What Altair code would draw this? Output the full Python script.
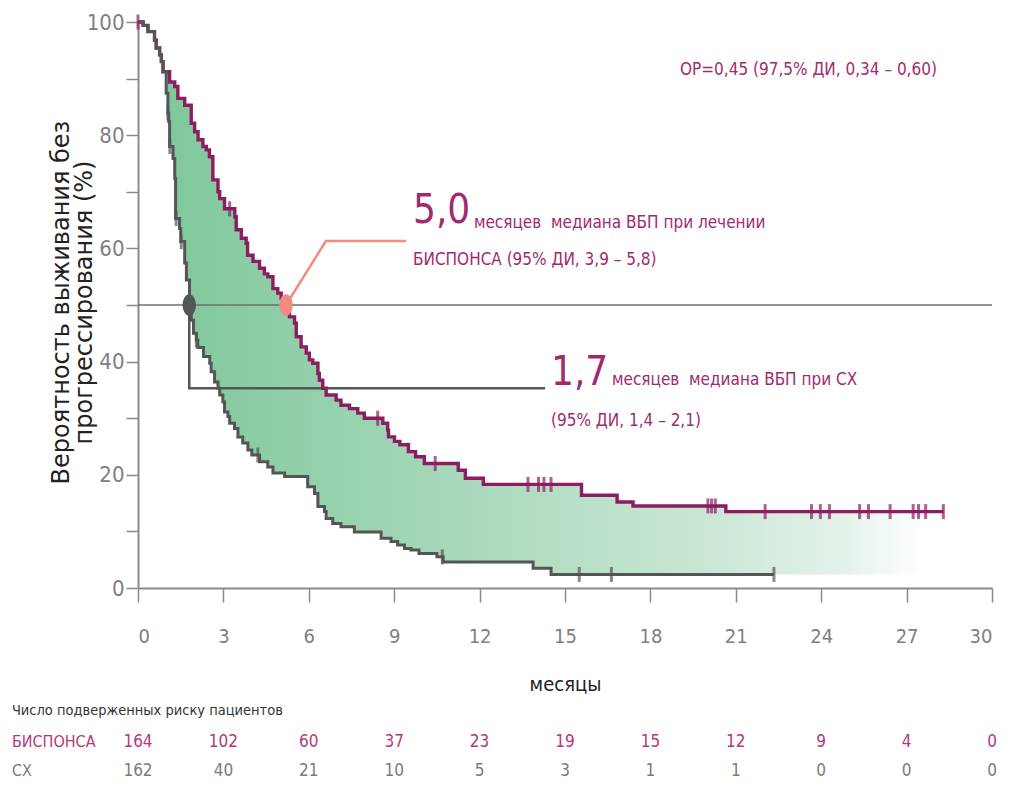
import altair as alt
import numpy as np
import pandas as pd

NARROW = "Liberation Sans Narrow, DejaVu Sans Condensed, sans-serif"
PURPLE_LINE = "#8B1D62"
PURPLE_TEXT = "#A12A6F"
PINK_TABLE = "#B3387C"
GRAY_LINE = "#555555"
SALMON = "#F28A80"
AXIS_GRAY = "#8a8a8a"

# ---- Kaplan-Meier steps: BESPONSA (months, % PFS) ----
bes_t = [0, 0.18, 0.35, 0.58, 0.64, 0.76, 0.82, 0.88, 1.11, 1.29, 1.40, 1.64, 1.87, 1.99,
         2.11, 2.28, 2.40, 2.51, 2.63, 2.81, 2.87, 3.04, 3.40, 3.45, 3.63, 3.80, 3.85, 4.04,
         4.27, 4.44, 4.56, 4.74, 4.91, 5.03, 5.20, 5.32, 5.50, 5.56, 5.73, 5.91, 6.02, 6.14,
         6.32, 6.37, 6.49, 6.61, 6.96, 7.13, 7.43, 7.72, 7.95, 8.60, 8.77, 8.80, 9.01, 9.20,
         9.50, 9.75, 10.06, 11.25, 11.50, 12.13, 15.58, 16.83, 17.39, 20.65, 28.30]
bes_s = [100, 99.4, 98.3, 96.8, 95.4, 94.2, 93.0, 91.2, 89.4, 88.6, 86.5, 85.3, 82.1, 80.6,
         79.2, 78.0, 77.4, 76.2, 72.1, 70.0, 68.8, 67.0, 65.6, 63.3, 61.8, 60.9, 58.8, 57.7,
         56.5, 55.5, 55.0, 52.9, 52.1, 51.2, 50.0, 47.9, 46.8, 44.4, 42.6, 41.5, 40.3, 39.7,
         37.9, 36.7, 35.3, 34.1, 33.2, 32.3, 31.7, 30.9, 30.0, 29.1, 27.9, 26.7, 25.9, 25.3,
         24.1, 23.2, 22.0, 20.8, 19.4, 18.3, 16.4, 15.2, 14.5, 13.5, 13.5]

# ---- Kaplan-Meier steps: СХ ----
sc_t = [0, 0.18, 0.35, 0.58, 0.64, 0.76, 0.82, 0.88, 0.99, 1.05, 1.08, 1.11, 1.23, 1.29,
        1.32, 1.46, 1.50, 1.64, 1.70, 1.81, 1.87, 1.95, 2.05, 2.10, 2.30, 2.52, 2.57, 2.69,
        2.81, 2.87, 2.98, 3.04, 3.16, 3.22, 3.39, 3.51, 3.68, 3.86, 4.00, 4.27, 4.56, 4.74,
        5.15, 5.96, 6.20, 6.32, 6.55, 6.61, 6.84, 7.13, 7.60, 8.54, 8.89, 9.12, 9.36, 9.59,
        9.87, 10.50, 10.72, 13.88, 14.51, 22.34]
sc_s = [100, 99.4, 98.3, 96.8, 95.4, 94.2, 93.0, 91.2, 87.4, 83.9, 82.4, 78.0, 75.9, 72.4,
        65.3, 63.5, 61.2, 57.4, 54.4, 50.3, 47.3, 45.0, 43.8, 42.5, 40.9, 39.7, 38.2, 36.4,
        35.3, 34.1, 32.9, 31.1, 30.3, 29.1, 28.2, 26.7, 25.6, 24.4, 23.5, 22.3, 21.4, 20.3,
        19.7, 17.9, 16.7, 14.4, 13.5, 12.3, 11.4, 10.8, 9.9, 8.8, 8.2, 7.6, 7.0, 6.7,
        6.1, 5.5, 4.6, 3.5, 2.4, 2.4]

# censored observations (months)
bes_cens = [0.0, 3.22, 8.42, 10.44, 13.70, 14.07, 14.26, 14.51, 20.02, 20.15, 20.28, 22.03,
            23.66, 23.97, 24.29, 25.35, 25.66, 26.42, 27.23, 27.42, 27.67, 28.29]
sc_cens = [1.05, 1.12, 1.34, 1.52, 2.05, 4.21, 10.69, 15.50, 16.63, 22.34]

fill_end = 27.65

# medians
sc_median = 1.8
bes_median = 5.2
sc_bracket_level = 35.3
sc_bracket_end = 14.3
bes_leader = [(5.2, 50.0), (6.6, 61.3), (9.42, 61.3)]

# annotations
NB = "\u00a0"
ann_text = ["5,0", "месяцев" + NB + NB + "медиана ВБП при лечении", "БИСПОНСА (95% ДИ, 3,9 – 5,8)",
            "1,7", "месяцев" + NB + NB + "медиана ВБП при СХ", "(95% ДИ, 1,4 – 2,1)",
            "ОР=0,45 (97,5% ДИ, 0,34 – 0,60)"]
ann_t = [9.66, 11.80, 9.66, 14.51, 16.65, 14.51, 19.04]
ann_s = [64.4, 63.6, 57.1, 35.9, 35.9, 28.6, 90.6]
ann_size = [40, 17, 17, 40, 17, 17, 17]

# risk table
risk_times = [0, 3, 6, 9, 12, 15, 18, 21, 24, 27, 30]
bes_risk = [164, 102, 60, 37, 23, 19, 15, 12, 9, 4, 0]
sc_risk = [162, 40, 21, 10, 5, 3, 1, 1, 0, 0, 0]
risk_title = "Число подверженных риску пациентов"
row_names = ["БИСПОНСА", "СХ"]
row_s = [-27.2, -32.3]
title_s = -21.7
row_label_t = -4.43


def step_val(ts, vs, t):
    i = int(np.searchsorted(np.array(ts), t, side="right")) - 1
    return vs[max(i, 0)]


bes_df = pd.DataFrame({"t": bes_t, "s": bes_s})
sc_df = pd.DataFrame({"t": sc_t, "s": sc_s})

grid = sorted(set([t for t in bes_t if t < fill_end]) | set(sc_t) | {fill_end})
fill_df = pd.DataFrame({
    "t": grid,
    "hi": [step_val(bes_t, bes_s, t) for t in grid],
    "lo": [step_val(sc_t, sc_s, t) for t in grid],
})

cens_df = pd.DataFrame({
    "t": bes_cens + sc_cens,
    "s": [step_val(bes_t, bes_s, t) for t in bes_cens] + [step_val(sc_t, sc_s, t) for t in sc_cens],
    "g": ["b"] * len(bes_cens) + ["c"] * len(sc_cens),
})

xs = alt.Scale(domain=[0, 30], nice=False, zero=False)
ys = alt.Scale(domain=[0, 100], nice=False, zero=False)

xaxis = alt.Axis(values=list(range(0, 31, 3)), title="месяцы", tickSize=14, labelPadding=24,
                 labelFontSize=20, titleFont=NARROW, titleFontSize=20, titleColor="#222222",
                 titleFontWeight="normal", titleY=102, titleBaseline="alphabetic")
yaxis = alt.Axis(values=list(range(0, 101, 10)),
                 labelExpr="datum.value % 20 == 0 ? datum.label : ''",
                 title=["Вероятность выживания без", "прогрессирования (%)"],
                 tickSize=12, labelPadding=2, labelFontSize=22,
                 titleFont="DejaVu Sans", titleFontSize=24, titleColor="#222222",
                 titleFontWeight="normal", titleX=-77, titleY=280, titleAngle=270,
                 titleAlign="center", titleBaseline="middle", titleLineHeight=23)


def X(f):
    return alt.X(f, scale=xs, axis=xaxis)


def Y(f):
    return alt.Y(f, scale=ys, axis=yaxis)


gradient = alt.Gradient(
    gradient="linear",
    stops=[alt.GradientStop(color="#7BC699", offset=0),
           alt.GradientStop(color="#A7D8BA", offset=0.4),
           alt.GradientStop(color="#CDE8D8", offset=0.75),
           alt.GradientStop(color="#E4F3EA", offset=0.9),
           alt.GradientStop(color="#FFFFFF", offset=1)],
    x1=0, x2=1, y1=0, y2=0)

fill = alt.Chart(fill_df).mark_area(interpolate="step-after", color=gradient).encode(
    x=X("t:Q"), y=Y("hi:Q"), y2="lo:Q")

ref50 = alt.Chart(pd.DataFrame({"s": [50]})).mark_rule(color="#6f6f6f", strokeWidth=1.5).encode(
    y=Y("s:Q"))

sc_bracket = alt.Chart(pd.DataFrame({
    "t": [sc_median, sc_median, sc_bracket_end],
    "s": [50, sc_bracket_level, sc_bracket_level],
    "o": [0, 1, 2]})).mark_line(color="#555555", strokeWidth=2.5).encode(
    x=X("t:Q"), y=Y("s:Q"), order="o:Q")

bes_lead = alt.Chart(pd.DataFrame({
    "t": [p[0] for p in bes_leader], "s": [p[1] for p in bes_leader],
    "o": [0, 1, 2]})).mark_line(color=SALMON, strokeWidth=2.5).encode(
    x=X("t:Q"), y=Y("s:Q"), order="o:Q")

bes_line = alt.Chart(bes_df).mark_line(interpolate="step-after", color=PURPLE_LINE,
                                       strokeWidth=3.4).encode(x=X("t:Q"), y=Y("s:Q"))
sc_line = alt.Chart(sc_df).mark_line(interpolate="step-after", color=GRAY_LINE,
                                     strokeWidth=3).encode(x=X("t:Q"), y=Y("s:Q"))

cens = alt.Chart(cens_df).mark_tick(orient="vertical", size=15, thickness=3).encode(
    x=X("t:Q"), y=Y("s:Q"),
    color=alt.Color("g:N", scale=alt.Scale(domain=["b", "c"], range=[PURPLE_LINE, GRAY_LINE]),
                    legend=None))

ELLIPSE = "M0,-1A0.62,1,0,1,1,0,1A0.62,1,0,1,1,0,-1Z"
dots = alt.Chart(pd.DataFrame({"t": [sc_median, bes_median], "s": [50, 50],
                               "c": [GRAY_LINE, SALMON]})).mark_point(
    shape=ELLIPSE, filled=True, size=460, opacity=1).encode(
    x=X("t:Q"), y=Y("s:Q"), color=alt.Color("c:N", scale=None))

ann_df = pd.DataFrame({"t": ann_t, "s": ann_s, "txt": ann_text, "fs": ann_size})
ann = alt.Chart(ann_df).mark_text(align="left", baseline="alphabetic", font=NARROW,
                                  color=PURPLE_TEXT).encode(
    x=X("t:Q"), y=Y("s:Q"), text="txt:N", size=alt.Size("fs:Q", scale=None))

risk_df = pd.DataFrame({
    "t": risk_times + risk_times,
    "s": [row_s[0]] * len(risk_times) + [row_s[1]] * len(risk_times),
    "txt": [str(v) for v in bes_risk] + [str(v) for v in sc_risk],
    "c": [PINK_TABLE] * len(risk_times) + ["#7a7a7a"] * len(risk_times)})
risk = alt.Chart(risk_df).mark_text(align="center", baseline="middle", font=NARROW,
                                    fontSize=17).encode(
    x=X("t:Q"), y=Y("s:Q"), text="txt:N", color=alt.Color("c:N", scale=None))

lab_df = pd.DataFrame({"t": [row_label_t] * 3, "s": [title_s] + row_s,
                       "txt": [risk_title] + row_names,
                       "c": ["#333333", PINK_TABLE, "#7a7a7a"],
                       "fs": [14.5, 16, 16]})
labels = alt.Chart(lab_df).mark_text(align="left", baseline="middle", font=NARROW).encode(
    x=X("t:Q"), y=Y("s:Q"), text="txt:N", color=alt.Color("c:N", scale=None),
    size=alt.Size("fs:Q", scale=None))

chart = alt.layer(fill, ref50, sc_bracket, bes_lead, bes_line, sc_line, cens, dots, ann,
                  risk, labels).properties(
    width=854, height=566,
    padding={"left": 130, "top": 14, "right": 11, "bottom": 193},
    autosize=alt.AutoSizeParams(type="none"),
).configure_view(stroke=None).configure_axis(
    grid=False, domainColor=AXIS_GRAY, domainWidth=2, tickColor=AXIS_GRAY, tickWidth=1.5,
    labelColor="#808080", labelFont=NARROW)

chart.save("out.html", embed_options={"renderer": "svg", "actions": False})
